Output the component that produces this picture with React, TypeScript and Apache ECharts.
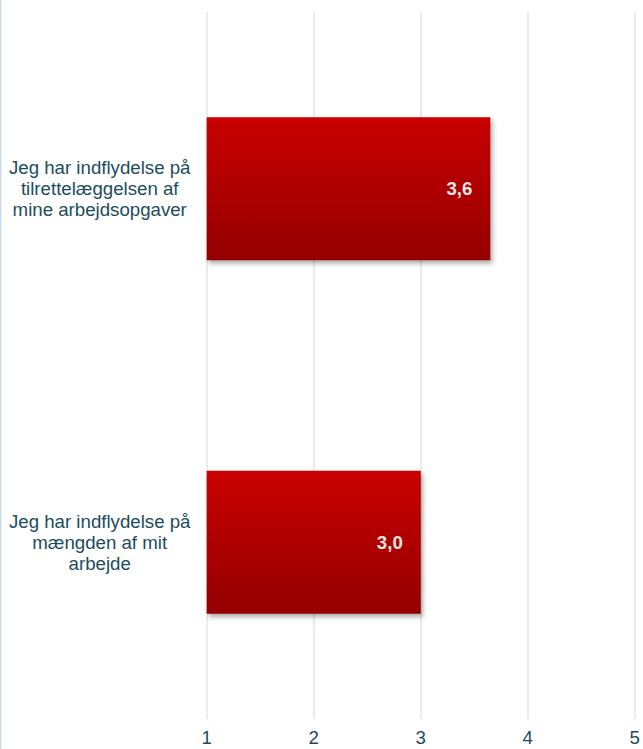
import React, { useEffect, useRef } from "react";
import * as echarts from "echarts";

const categories = [
  "Jeg har indflydelse på\ntilrettelæggelsen af\nmine arbejdsopgaver",
  "Jeg har indflydelse på\nmængden af mit\narbejde",
];
const values = [3.65, 3.0];
const valueLabels = ["3,6", "3,0"];
const xTicks = [1, 2, 3, 4, 5];

export default function App() {
  const ref = useRef<HTMLDivElement>(null);
  useEffect(() => {
    if (!ref.current) return;
    const chart = echarts.init(ref.current, null, { renderer: "svg" });
    const textColor = "#1C4D5C";
    const font = "'Liberation Sans', Arial, sans-serif";
    chart.setOption({
      animation: false,
      backgroundColor: "#ffffff",
      grid: { left: 206.7, right: 7.3, top: 12, bottom: 30, containLabel: false },
      xAxis: {
        type: "value",
        min: xTicks[0],
        max: xTicks[xTicks.length - 1],
        interval: 1,
        axisLine: { show: false },
        axisTick: { show: false },
        splitLine: { show: true, lineStyle: { color: "#EBEBEB", width: 2 } },
        axisLabel: {
          color: textColor,
          fontSize: 18.67,
          fontFamily: font,
          margin: 9,
          formatter: (v: number) => String(v),
        },
      },
      yAxis: {
        type: "category",
        data: categories,
        inverse: true,
        axisLine: { show: false },
        axisTick: { show: false },
        splitLine: { show: false },
        axisLabel: {
          color: textColor,
          fontSize: 18.67,
          lineHeight: 21,
          align: "center",
          margin: 107,
          fontFamily: font,
        },
      },
      series: [
        {
          type: "bar",
          data: values,
          barWidth: 143,
          itemStyle: {
            color: new echarts.graphic.LinearGradient(0, 0, 0, 1, [
              { offset: 0, color: "#C90000" },
              { offset: 1, color: "#940000" },
            ]),
            shadowColor: "rgba(0,0,0,0.35)",
            shadowBlur: 5,
            shadowOffsetX: 2,
            shadowOffsetY: 3,
          },
          label: {
            show: true,
            position: "insideRight",
            distance: 18,
            color: "#E4E4E4",
            fontWeight: "bold",
            fontSize: 18.67,
            fontFamily: font,
            formatter: (p: any) => valueLabels[p.dataIndex],
          },
        },
      ],
      graphic: [
        {
          type: "rect",
          left: 0,
          top: 0,
          shape: { width: 1.5, height: 749 },
          style: { fill: "#C9DEEC" },
        },
      ],
    });
    return () => chart.dispose();
  }, []);
  return (
    <div
      ref={ref}
      style={{ position: "fixed", left: 0, top: 0, width: 643, height: 749 }}
    />
  );
}
